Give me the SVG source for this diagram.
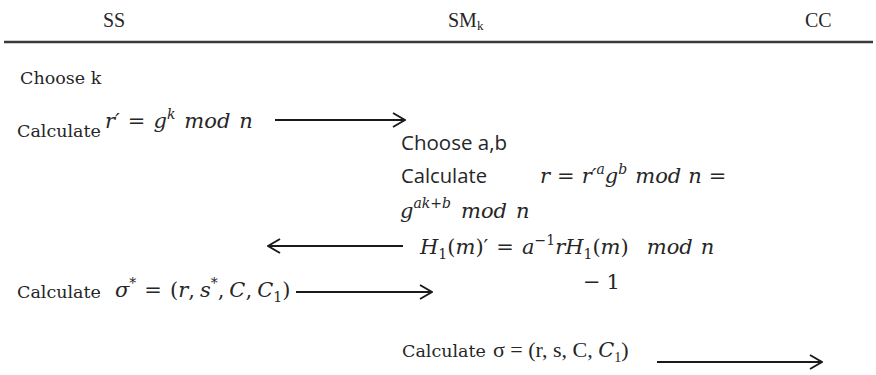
<svg xmlns="http://www.w3.org/2000/svg" width="876" height="375" viewBox="0 0 876 375">
<style>
  text { fill: #262626; }
  .hd { font-family: "Liberation Serif", "Times New Roman", serif; font-size: 20px; }
  .tx { font-family: "DejaVu Serif", "Liberation Serif", serif; font-size: 17.5px; }
  .sn { font-family: "Open Sans", "Liberation Sans", sans-serif; font-size: 20px; }
  .rm { font-family: "Liberation Serif", "Times New Roman", serif; font-size: 22px; }
  .m { font-family: "DejaVu Serif", "Liberation Serif", serif; font-size: 21px; font-style: italic; }
  .u { font-style: normal; }
  .sup { font-size: 14px; }
  .rule { stroke: #3a3a3a; stroke-width: 2.4; }
  .arr { stroke: #1a1a1a; stroke-width: 2; fill: none; marker-end: url(#head); }
</style>
<defs>
  <marker id="head" viewBox="0 0 14 16" refX="13" refY="8" markerWidth="14" markerHeight="16" markerUnits="userSpaceOnUse" orient="auto">
    <path d="M1,1 L13,8 L1,15" fill="none" stroke="#1a1a1a" stroke-width="2"/>
  </marker>
</defs>
<rect width="876" height="375" fill="#ffffff"/>

<g id="header-SS"><text class="hd" x="103" y="27">SS</text></g>
<g id="header-SMk"><text class="hd" x="448" y="27">SM<tspan font-size="13" dy="3">k</tspan></text></g>
<g id="header-CC"><text class="hd" x="805" y="27">CC</text></g>
<line id="rule" class="rule" x1="4" y1="42" x2="873" y2="42"/>

<g id="ss-choose-k"><text class="tx" x="20" y="84">Choose k</text></g>

<g id="ss-calc-rprime">
  <text class="tx" x="17" y="137">Calculate</text>
  <text class="m" x="105" y="128">r′<tspan class="u" dx="8">=</tspan><tspan dx="8">g</tspan><tspan class="sup" dy="-9">k</tspan><tspan dy="9" dx="9">mod</tspan><tspan dx="9">n</tspan></text>
</g>

<g id="sm-choose-ab"><text class="sn" x="401" y="150" textLength="106" lengthAdjust="spacingAndGlyphs">Choose a,b</text></g>

<g id="sm-calc-r">
  <text class="sn" x="401" y="183" textLength="86" lengthAdjust="spacingAndGlyphs">Calculate</text>
  <text class="m" x="540" y="183">r<tspan class="u" dx="7">=</tspan><tspan dx="7">r′</tspan><tspan class="sup" dy="-9">a</tspan><tspan dy="9">g</tspan><tspan class="sup" dy="-9">b</tspan><tspan dy="9" dx="8">mod</tspan><tspan dx="7">n</tspan><tspan class="u" dx="7">=</tspan></text>
  <text class="m" x="400" y="218">g<tspan class="sup" dy="-10">ak<tspan class="u">+</tspan>b</tspan><tspan dy="10" dx="10">mod</tspan><tspan dx="9">n</tspan></text>
</g>

<g id="sm-h1">
  <text class="m" x="420" y="254">H<tspan class="sup u" dy="5">1</tspan><tspan dy="-5" class="u">(</tspan>m<tspan class="u">)′</tspan><tspan class="u" dx="8">=</tspan><tspan dx="8">a</tspan><tspan class="sup u" dy="-9">−1</tspan><tspan dy="9">rH</tspan><tspan class="sup u" dy="5">1</tspan><tspan dy="-5" class="u">(</tspan>m<tspan class="u">)</tspan><tspan dx="18">mod</tspan><tspan dx="8">n</tspan></text>
  <text class="m" x="583" y="289"><tspan class="u">−</tspan><tspan class="u" dx="6">1</tspan></text>
</g>

<g id="ss-calc-sigma-star">
  <text class="tx" x="17" y="298">Calculate</text>
  <text class="m" x="115" y="297">σ<tspan class="sup u" dy="-9">*</tspan><tspan dy="9" class="u" dx="8">=</tspan><tspan class="u" dx="8">(</tspan>r<tspan class="u">,</tspan><tspan dx="5">s</tspan><tspan class="sup u" dy="-9">*</tspan><tspan dy="9" class="u">,</tspan><tspan dx="5">C</tspan><tspan class="u">,</tspan><tspan dx="5">C</tspan><tspan class="sup u" dy="5">1</tspan><tspan dy="-5" class="u">)</tspan></text>
</g>

<g id="sm-calc-sigma">
  <text class="tx" x="402" y="357">Calculate</text>
  <text class="rm" x="493" y="357">σ = (r, s, C, <tspan class="m">C</tspan><tspan class="sup" dy="5">1</tspan><tspan dy="-5">)</tspan></text>
</g>

<g id="connectors">
  <line class="arr" x1="275" y1="120" x2="405" y2="120"/>
  <line class="arr" x1="403" y1="246" x2="268" y2="246"/>
  <line class="arr" x1="296" y1="292" x2="432" y2="292"/>
  <line class="arr" x1="657" y1="362" x2="822" y2="362"/>
</g>
</svg>
